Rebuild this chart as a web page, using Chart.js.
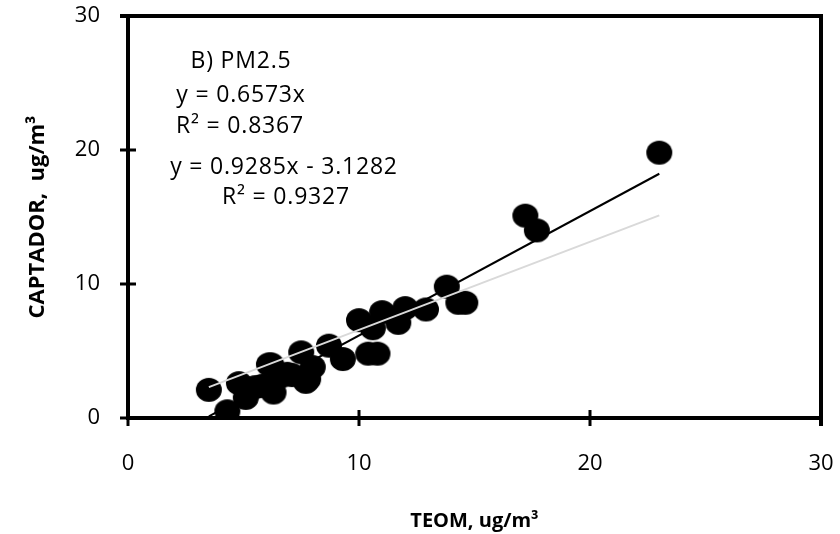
<!DOCTYPE html>
<html><head><meta charset="utf-8">
<script src="https://cdn.jsdelivr.net/npm/chart.js@4"></script>
<style>html,body{margin:0;padding:0;background:#fff}#wrap{width:840px;height:534px}</style>
</head><body><div id="wrap"><canvas id="c" width="840" height="534"></canvas></div>
<script>
// ---- data ----
const teom     = [3.5, 4.3, 4.8, 5.1, 5.5, 5.8, 6.1, 6.2, 6.3, 6.6, 6.9, 7.1, 7.5, 7.7, 7.8, 8.0, 8.7, 9.3, 10.0, 10.4, 10.8, 10.6, 11.0, 11.7, 12.0, 12.9, 13.8, 14.3, 14.6, 17.2, 17.7, 23.0];
const captador = [2.1, 0.5, 2.6, 1.5, 2.3, 2.4, 4.0, 4.0, 1.9, 3.1, 3.3, 3.2, 4.9, 2.7, 2.9, 3.8, 5.4, 4.4, 7.3, 4.8, 4.8, 6.7, 7.9, 7.1, 8.2, 8.1, 9.8, 8.6, 8.6, 15.1, 14.0, 19.8];
const xTicks = [0, 10, 20, 30];
const yTicks = [0, 10, 20, 30];
const fitThroughOrigin = [0.6573, 0];       // y = 0.6573x
const fitLinear        = [0.9285, -3.1282]; // y = 0.9285x - 3.1282
const annotationLines = ["B) PM2.5", "y = 0.6573x", "R² = 0.8367", "y = 0.9285x - 3.1282", "R² = 0.9327"];
const xTitle = "TEOM, ug/m³";
const yTitle = "CAPTADOR,  ug/m³";

// ---- build chart ----
const pts = teom.map((x, i) => ({x, y: captador[i]}));
const xMin = Math.min(...teom), xMax = Math.max(...teom);
const fitPts = f => [{x: xMin, y: f[0]*xMin + f[1]}, {x: xMax, y: f[0]*xMax + f[1]}];

const marker = document.createElement('canvas');
marker.width = 28; marker.height = 26;
{ const m = marker.getContext('2d'); m.fillStyle = '#000'; m.beginPath(); m.ellipse(14, 13, 13, 12, 0, 0, Math.PI*2); m.fill(); }

const FONT = "'Open Sans', 'Liberation Sans', sans-serif";
const annPos = [[241, 61], [241, 95], [240, 126], [284, 167], [286, 197]];
const TICK = 8;

const decor = {
  id: 'decor',
  afterDatasetsDraw(chart) {
    const {ctx, chartArea: a, scales: {x, y}} = chart;
    ctx.save();
    ctx.strokeStyle = '#000'; ctx.lineWidth = 4; ctx.lineCap = 'butt';
    ctx.beginPath();
    ctx.moveTo(a.left - TICK, a.top); ctx.lineTo(a.right, a.top); ctx.lineTo(a.right, a.bottom + TICK);
    ctx.stroke();
    ctx.lineWidth = 3;
    ctx.beginPath();
    xTicks.forEach(v => { const p = x.getPixelForValue(v); ctx.moveTo(p, a.bottom + TICK); ctx.lineTo(p, a.bottom - TICK); });
    yTicks.forEach(v => { const p = y.getPixelForValue(v); ctx.moveTo(a.left - TICK, p); ctx.lineTo(a.left + TICK, p); });
    ctx.stroke();
    ctx.fillStyle = '#000';
    ctx.font = "23px " + FONT;
    ctx.textAlign = 'center'; ctx.textBaseline = 'middle';
    try { ctx.letterSpacing = '0.8px'; } catch (e) {}
    annotationLines.forEach((t, i) => ctx.fillText(t, annPos[i][0], annPos[i][1]));
    ctx.restore();
  }
};

new Chart(document.getElementById('c'), {
  type: 'scatter',
  data: {
    datasets: [
      {label: 'fit0', data: fitPts(fitThroughOrigin), showLine: true, borderColor: '#d9d9d9', borderWidth: 2, pointRadius: 0, order: 0},
      {label: 'fit1', data: fitPts(fitLinear), showLine: true, borderColor: '#000', borderWidth: 2, pointRadius: 0, order: 1},
      {label: 'PM2.5', data: pts, pointStyle: marker, backgroundColor: '#000', borderColor: '#000', order: 2}
    ]
  },
  options: {
    responsive: false, animation: false, devicePixelRatio: 1,
    layout: {padding: {top: 16, right: 19, left: 0, bottom: 0}},
    plugins: {legend: {display: false}, tooltip: {enabled: false}},
    scales: {
      x: {
        type: 'linear', min: 0, max: 30,
        afterBuildTicks: s => { s.ticks = xTicks.map(v => ({value: v})); },
        afterFit: s => { s.height = 116; },
        grid: {display: true, drawOnChartArea: false, drawTicks: true, tickLength: 33, tickWidth: 1, tickColor: 'rgba(0,0,0,0)'},
        border: {display: true, color: '#000', width: 4},
        ticks: {color: '#000', font: {family: FONT, size: 22}, padding: 0, maxRotation: 0},
        title: {display: true, text: xTitle, color: '#000', font: {family: FONT, size: 20, weight: 'bold'}, padding: {top: 4, bottom: 1}}
      },
      y: {
        type: 'linear', min: 0, max: 30,
        afterBuildTicks: s => { s.ticks = yTicks.map(v => ({value: v})); },
        afterFit: s => { s.width = 128; },
        grid: {display: true, drawOnChartArea: false, drawTicks: true, tickLength: 28, tickWidth: 1, tickColor: 'rgba(0,0,0,0)'},
        border: {display: true, color: '#000', width: 4},
        ticks: {color: '#000', font: {family: FONT, size: 22}, padding: 0},
        title: {display: true, text: yTitle, color: '#000', font: {family: FONT, size: 22, weight: 'bold'}, padding: {top: 25, bottom: 0}}
      }
    }
  },
  plugins: [decor]
});
</script>
</body></html>
